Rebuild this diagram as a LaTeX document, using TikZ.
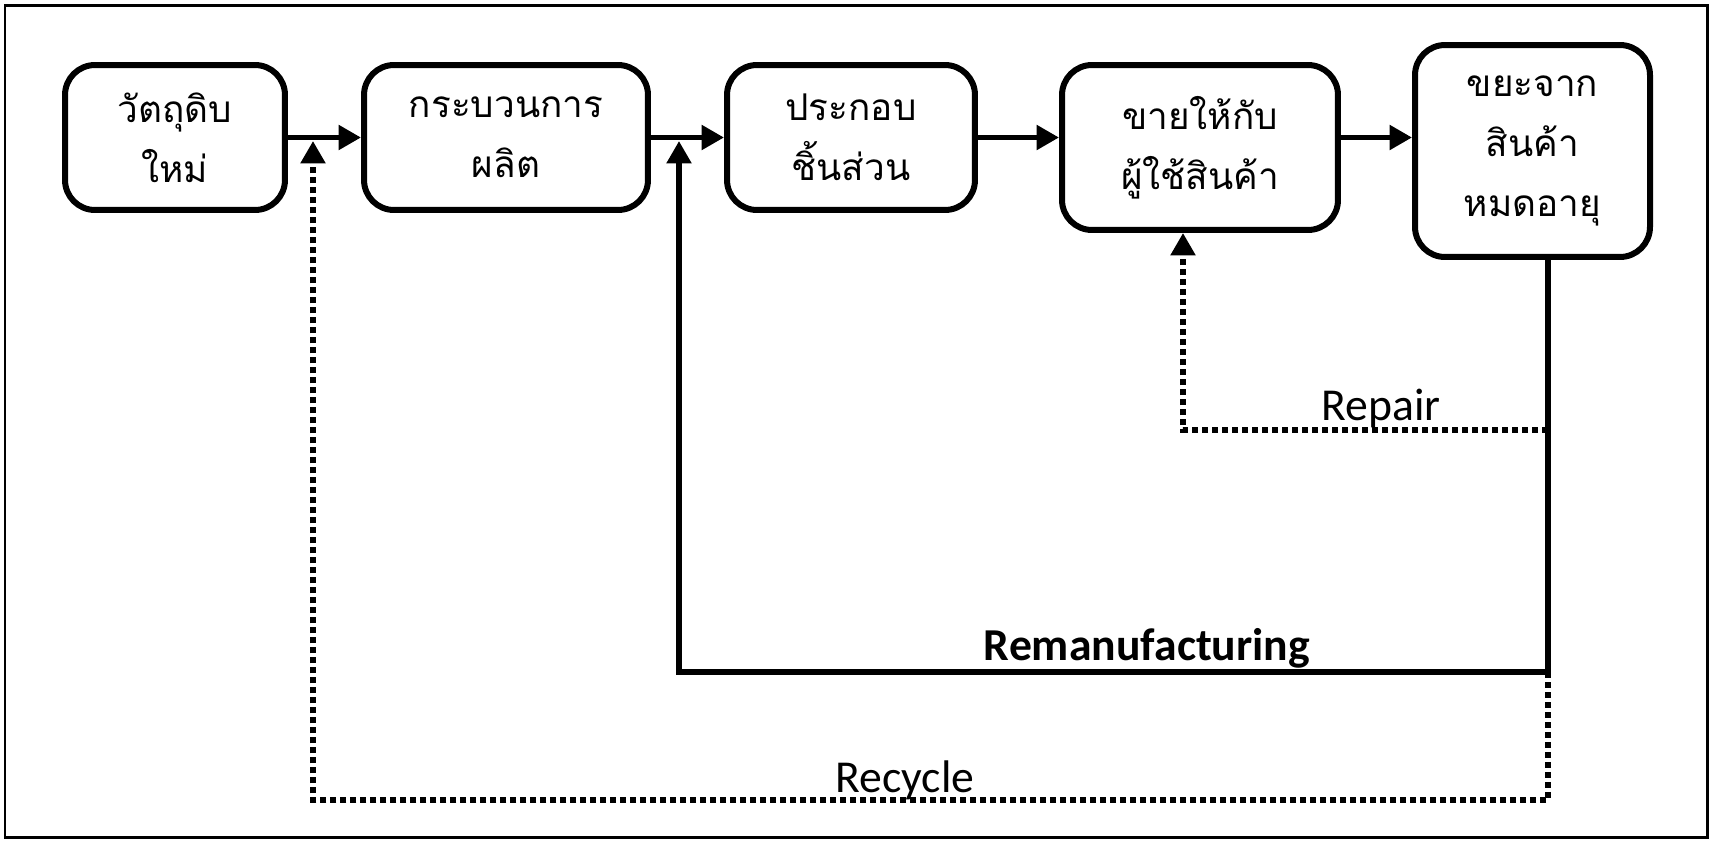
\documentclass[tikz,border=0pt]{standalone}
\usepackage{fontspec}
\setmainfont{Carlito}
\newfontfamily\thaifont[Script=Thai]{Loma}
\usetikzlibrary{arrows.meta}

\tikzset{
    stepbox/.style={draw, line width=0.12cm, rounded corners=0.6cm, align=center,
        inner sep=0pt, font=\thaifont\fontsize{21pt}{34pt}\selectfont},
    flow/.style={line width=0.11cm, -{Triangle[length=0.45cm,width=0.48cm]}},
    dotline/.style={line width=0.12cm, dash pattern=on 0.12cm off 0.08cm},
    lbl/.style={font=\fontsize{26pt}{30pt}\selectfont},
}

\begin{document}
\begin{tikzpicture}[x=0.02cm,y=-0.02cm]
    \useasboundingbox (0,0) rectangle (1713,842);
    \draw[line width=0.06cm] (5,5) rectangle (1707,837);

    % process chain
    \node[stepbox, minimum width=4.4cm, minimum height=2.9cm] (raw) at (175,137.5) {วัตถุดิบ\\ใหม่};
    \node[stepbox, minimum width=5.68cm, minimum height=2.9cm] (prod) at (506,137.5) {กระบวนการ\\ผลิต};
    \node[stepbox, minimum width=4.96cm, minimum height=2.9cm] (asm) at (851,137.5) {ประกอบ\\ชิ้นส่วน};
    \node[stepbox, minimum width=5.52cm, minimum height=3.3cm] (sell) at (1200,147.5) {ขายให้กับ\\ผู้ใช้สินค้า};
    \node[stepbox, minimum width=4.7cm, minimum height=4.24cm] (waste) at (1532.5,151) {ขยะจาก\\สินค้า\\หมดอายุ};

    \draw[flow] (raw.east) -- (prod.west);
    \draw[flow] (prod.east) -- (asm.west);
    \draw[flow] (asm.east) -- (asm.east -| sell.west);
    \draw[flow] (sell.east |- asm.east) -- (asm.east -| waste.west);

    % return loops
    \coordinate (drop) at (1548,257);
    \coordinate (rp) at (1548,430);
    \coordinate (rm) at (1548,672);
    \coordinate (rc) at (1548,800);
    \coordinate (rpup) at (1183,430);
    \coordinate (j1) at (313,141);
    \coordinate (j2) at (679,141);

    \draw[flow] (drop) -- (rm) -| (j2);
    \draw[dotline, flow] (rp) -- (rpup) -- (rpup |- sell.south);
    \draw[dotline, flow] (rm) -- (rc) -| (j1);

    \node[lbl] (repair) at (1381,408) {Repair};
    \node[lbl, font=\bfseries\fontsize{26pt}{30pt}\selectfont] (reman) at (1147,648) {Remanufacturing};
    \node[lbl] (recycle) at (905,780) {Recycle};
\end{tikzpicture}
\end{document}
